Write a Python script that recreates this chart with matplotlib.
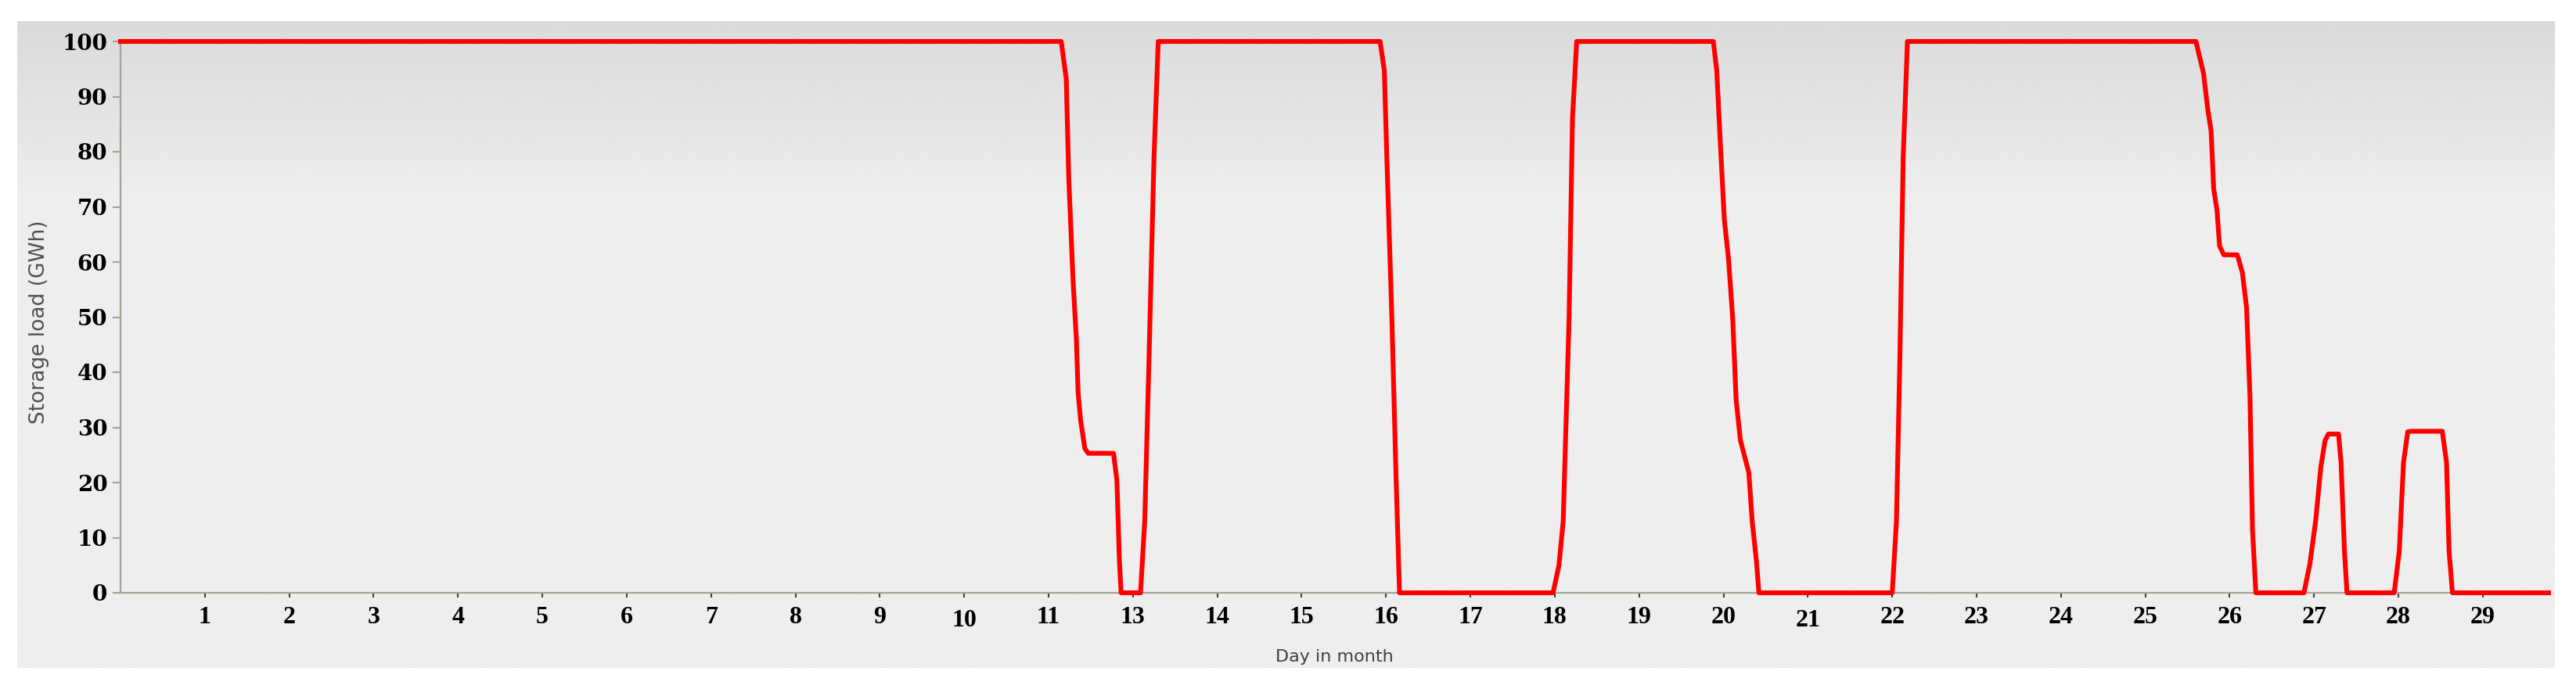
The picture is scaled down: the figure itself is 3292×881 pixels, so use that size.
import matplotlib

matplotlib.use("Agg")

import matplotlib.pyplot as plt
import matplotlib.transforms as mtransforms
import numpy as np

# day index (tick position) and storage load in GWh
day_pos = [
    0.00, 11.15, 11.21, 11.24, 11.29, 11.33, 11.35, 11.38, 11.43, 11.47,
    11.77, 11.81, 11.84, 11.86, 12.09, 12.14, 12.19, 12.25, 12.30,
    14.93, 14.98, 15.01, 15.07, 15.12, 15.16,
    16.98, 17.05, 17.10, 17.17, 17.21, 17.26,
    18.88, 18.92, 18.96, 19.01, 19.06, 19.11, 19.15, 19.20, 19.30, 19.34, 19.39, 19.42,
    21.00, 21.05, 21.09, 21.13, 21.18,
    24.60, 24.64, 24.69, 24.74, 24.78, 24.81, 24.85, 24.88, 24.93,
    25.09, 25.15, 25.20, 25.24, 25.27, 25.31,
    25.88, 25.95, 26.02, 26.08, 26.13, 26.17, 26.29, 26.32, 26.36, 26.39,
    26.95, 27.01, 27.06, 27.11, 27.15, 27.52, 27.57, 27.60, 27.64,
    28.78,
]
storage_gwh = [
    100, 100, 93.2, 75.0, 56.8, 45.9, 36.4, 31.3, 26.2, 25.3,
    25.3, 20.4, 5.8, 0, 0, 13.0, 42.0, 79.0, 100,
    100, 94.7, 78.7, 49.5, 20.4, 0,
    0, 5.0, 13.0, 50.0, 86.0, 100,
    100, 94.7, 82.3, 67.7, 60.5, 49.5, 35.0, 27.7, 21.8, 13.0, 5.8, 0,
    0, 13.0, 42.0, 79.0, 100,
    100, 97.4, 94.2, 87.7, 83.7, 73.3, 69.3, 62.9, 61.3,
    61.3, 58.1, 51.7, 35.7, 11.6, 0,
    0, 5.2, 13.2, 22.8, 27.6, 28.8, 28.8, 23.6, 7.6, 0,
    0, 7.6, 23.6, 29.2, 29.3, 29.3, 23.6, 7.6, 0,
    0,
]
x_tick_pos = list(range(1, 29))
x_tick_labels = [str(d) for d in range(1, 12)] + [str(d) for d in range(13, 30)]
y_ticks = list(range(0, 101, 10))

W, H = 3292, 881
fig = plt.figure(figsize=(W / 100, H / 100), dpi=100)
fig.patch.set_facecolor("white")

# grey panel with a light vertical gradient at the top
bg = fig.add_axes([22 / W, (H - 854) / H, (3265 - 22) / W, (854 - 27) / H])
grad = np.linspace(0, 1, 400)
shade = np.clip(0xDA + (0xEE - 0xDA) * grad / 0.28, 0xDA, 0xEE) / 255.0
bg.imshow(np.repeat(shade[:, None], 2, axis=1), cmap="gray", vmin=0, vmax=1,
          aspect="auto", extent=[0, 1, 0, 1], origin="upper", interpolation="bilinear")
bg.set_axis_off()

ax = fig.add_axes([154 / W, (H - 758) / H, (3257 - 154) / W, (758 - 53) / H])
ax.set_facecolor("none")
ax.plot(day_pos, storage_gwh, color="#ff0000", lw=4.4, solid_joinstyle="round",
        clip_on=False, zorder=3)

ax.set_xlim(0, 28.78)
ax.set_ylim(0, 100)
for side in ("top", "right"):
    ax.spines[side].set_visible(False)
for side in ("left", "bottom"):
    ax.spines[side].set_color("#a3a394")
    ax.spines[side].set_linewidth(1.6)

ax.set_yticks(y_ticks)
ax.set_yticklabels([str(v) for v in y_ticks], fontfamily="DejaVu Serif",
                   fontweight="bold", fontsize=20)
ax.tick_params(axis="y", length=7, width=1.5, color="#a3a394", pad=5)

ax.set_xticks(x_tick_pos)
ax.set_xticklabels(x_tick_labels, fontfamily="Liberation Serif",
                   fontweight="bold", fontsize=23)
ax.tick_params(axis="x", length=4, width=1.5, color="#404040", pad=8)

# a couple of labels sit a little lower in the original
for lab in ax.get_xticklabels():
    if lab.get_text() in ("10", "21"):
        lab.set_transform(lab.get_transform()
                          + mtransforms.ScaledTranslation(0, -0.04, fig.dpi_scale_trans))

fig.text(50 / W, 1 - 412 / H, "Storage load (GWh)", rotation=90, ha="center", va="center",
         fontsize=19, color="#505050", fontfamily="DejaVu Sans")
fig.text(1705 / W, 1 - 840 / H, "Day in month", ha="center", va="center",
         fontsize=16, color="#404040", fontfamily="DejaVu Sans")

fig.savefig("out.png", dpi=100)
